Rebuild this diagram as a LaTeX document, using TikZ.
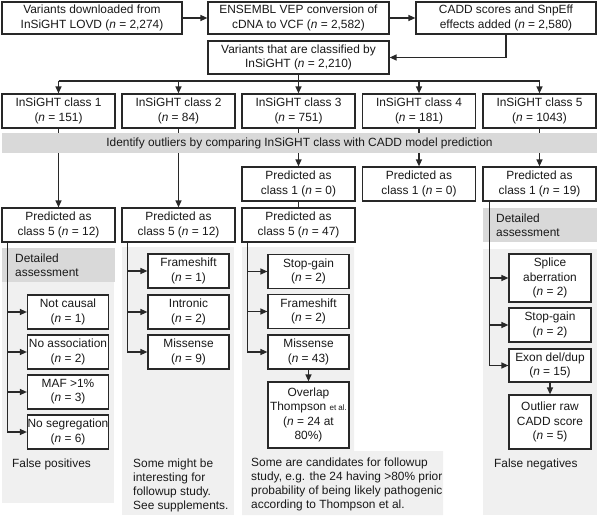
\documentclass[tikz,border=0pt]{standalone}
\usepackage{fontspec}
\setmainfont{Liberation Sans}
\usetikzlibrary{arrows.meta}
\definecolor{linec}{RGB}{40,40,40}
\definecolor{txtc}{RGB}{25,25,25}
\definecolor{bandc}{RGB}{217,217,217}
\definecolor{panelc}{RGB}{240,240,240}
\begin{document}
\begin{tikzpicture}[x=1bp,y=-1bp,
  every node/.style={font=\fontsize{11.9bp}{14.2bp}\selectfont, text=txtc},
  bx/.style 2 args={draw=linec, line width=1.2bp, fill=white, align=center, inner sep=0pt, minimum width=#1bp, minimum height=#2bp},
  arr/.style={draw=linec, line width=1.3bp, -{Triangle[length=7bp,width=6bp]}},
  ln/.style={draw=linec, line width=1.3bp},
  notetext/.style={anchor=north west, align=left, inner sep=0pt},
  detailbox/.style={fill=bandc, anchor=north west, minimum width=113bp, minimum height=34bp, inner xsep=13bp, inner ysep=0pt, text width=87bp, align=left},
]
\useasboundingbox (0,0) rectangle (598,516);
% panels
\fill[panelc] (2,282) rectangle (114,503);
\fill[panelc] (122,247) rectangle (234,515);
\fill[panelc] (242,247) -- (354,247) -- (354,451) -- (443,451) -- (443,515) -- (242,515) -- cycle;
\fill[panelc] (483,249) rectangle (597,515);
% detailed assessment boxes
\node[detailbox] (da1) at (2,248) {Detailed\\assessment};
\node[detailbox, minimum width=114bp, text width=88bp] (da5) at (483,208) {Detailed\\assessment};
% top
\node[bx={180}{32}] (A) at (92,18) {Variants downloaded from\\InSiGHT LOVD (\textit{n} = 2,274)};
\node[bx={181}{32}] (B) at (298.5,18) {ENSEMBL VEP conversion of\\cDNA to VCF (\textit{n} = 2,582)};
\node[bx={180}{32}] (C) at (506,18) {CADD scores and SnpEff\\effects added (\textit{n} = 2,580)};
\node[bx={181}{33}] (D) at (298.5,57.5) {Variants that are classified by\\InSiGHT (\textit{n} = 2,210)};
% classes
\node[bx={113}{34}] (c1) at (58.5,111) {InSiGHT class 1\\(\textit{n} = 151)};
\node[bx={113}{34}] (c2) at (178.5,111) {InSiGHT class 2\\(\textit{n} = 84)};
\node[bx={113}{34}] (c3) at (298.5,111) {InSiGHT class 3\\(\textit{n} = 751)};
\node[bx={113}{34}] (c4) at (419,111) {InSiGHT class 4\\(\textit{n} = 181)};
\node[bx={113}{34}] (c5) at (539.5,111) {InSiGHT class 5\\(\textit{n} = 1043)};
% predicted
\node[bx={113}{34}] (p1) at (58.5,225) {Predicted as\\class 5 (\textit{n} = 12)};
\node[bx={113}{34}] (p2) at (178.5,225) {Predicted as\\class 5 (\textit{n} = 12)};
\node[bx={113}{34}] (q3) at (298.5,184) {Predicted as\\class 1 (\textit{n} = 0)};
\node[bx={113}{34}] (p3) at (298.5,225) {Predicted as\\class 5 (\textit{n} = 47)};
\node[bx={113}{34}] (q4) at (419,184) {Predicted as\\class 1 (\textit{n} = 0)};
\node[bx={113}{34}] (q5) at (539.5,184) {Predicted as\\class 1 (\textit{n} = 19)};
% sub boxes
\node[bx={81}{34}] (n11) at (68,312) {Not causal\\(\textit{n} = 1)};
\node[bx={81}{34}] (n12) at (68,352) {No association\\(\textit{n} = 2)};
\node[bx={81}{34}] (n13) at (68,392) {MAF >1\%\\(\textit{n} = 3)};
\node[bx={81}{34}] (n14) at (68,432) {No segregation\\(\textit{n} = 6)};
\node[bx={81}{34}] (n21) at (188.5,271) {Frameshift\\(\textit{n} = 1)};
\node[bx={81}{34}] (n22) at (188.5,312) {Intronic\\(\textit{n} = 2)};
\node[bx={81}{34}] (n23) at (188.5,352) {Missense\\(\textit{n} = 9)};
\node[bx={81}{34}] (n31) at (308.5,271.5) {Stop-gain\\(\textit{n} = 2)};
\node[bx={81}{34}] (n32) at (308.5,311.5) {Frameshift\\(\textit{n} = 2)};
\node[bx={81}{34}] (n33) at (308.5,352) {Missense\\(\textit{n} = 43)};
\node[bx={81}{66}] (n34) at (308.5,415) {Overlap\\Thompson {\fontsize{8bp}{9bp}\selectfont et al.}\\(\textit{n} = 24 at\\80\%)};
\node[bx={82}{48}] (n51) at (550,278) {Splice\\aberration\\(\textit{n} = 2)};
\node[bx={82}{34}] (n52) at (550,325) {Stop-gain\\(\textit{n} = 2)};
\node[bx={82}{33}] (n53) at (550,365.5) {Exon del/dup\\(\textit{n} = 15)};
\node[bx={82}{54}] (n54) at (550,422) {Outlier raw\\CADD score\\(\textit{n} = 5)};
% top connectors
\draw[arr] (A.east) -- (B.west);
\draw[arr] (B.east) -- (C.west);
\draw[arr] (C.south) |- (D.east);
\coordinate (bus) at (298.5,81);
\draw[arr] (D.south) -- (c3.north);
\draw[ln] (c1.north |- bus) -- (c5.north |- bus);
\draw[arr] (c1.north |- bus) -- (c1.north);
\draw[arr] (c2.north |- bus) -- (c2.north);
\draw[arr] (c4.north |- bus) -- (c4.north);
\draw[arr] (c5.north |- bus) -- (c5.north);
% class to predicted
\draw[arr] (c1.south) -- (p1.north);
\draw[arr] (c2.south) -- (p2.north);
\draw[arr] (c3.south) -- (q3.north);
\draw[ln] (q3.south) -- (p3.north);
\draw[arr] (c4.south) -- (q4.north);
\draw[arr] (c5.south) -- (q5.north);
% branch lines
\coordinate (v1) at ([xshift=6bp]p1.south west);
\coordinate (v2) at ([xshift=6bp]p2.south west);
\coordinate (v3) at ([xshift=6bp]p3.south west);
\coordinate (v5) at ([xshift=7bp]q5.south west);
\draw[arr] (v1) |- (n11.west);
\draw[arr] (v1) |- (n12.west);
\draw[arr] (v1) |- (n13.west);
\draw[arr] (v1) |- (n14.west);
\draw[arr] (v2) |- (n21.west);
\draw[arr] (v2) |- (n22.west);
\draw[arr] (v2) |- (n23.west);
\draw[arr] (v3) |- (n31.west);
\draw[arr] (v3) |- (n32.west);
\draw[arr] (v3) |- (n33.west);
\draw[arr] (n33.south) -- (n34.north);
\draw[arr] (v5) |- (n51.west);
\draw[arr] (v5) |- (n52.west);
\draw[arr] (v5) |- (n53.west);
\draw[arr] (n53.south) -- (n54.north);
% band
\node[fill=bandc, minimum width=595bp, minimum height=20bp, inner sep=0pt] (band) at (299.5,143) {Identify outliers by comparing InSiGHT class with CADD model prediction};
% notes
\node[notetext] (fp) at (12,458.5) {False positives};
\node[notetext] (s2) at (133,458.5) {Some might be\\interesting for\\followup study.\\See supplements.};
\node[notetext] (s3) at (251,457.5) {Some are candidates for followup\\study, e.g. the 24 having >80\% prior\\probability of being likely pathogenic\\according to Thompson et al.};
\node[notetext] (fn) at (494,458.5) {False negatives};
\end{tikzpicture}
\end{document}
